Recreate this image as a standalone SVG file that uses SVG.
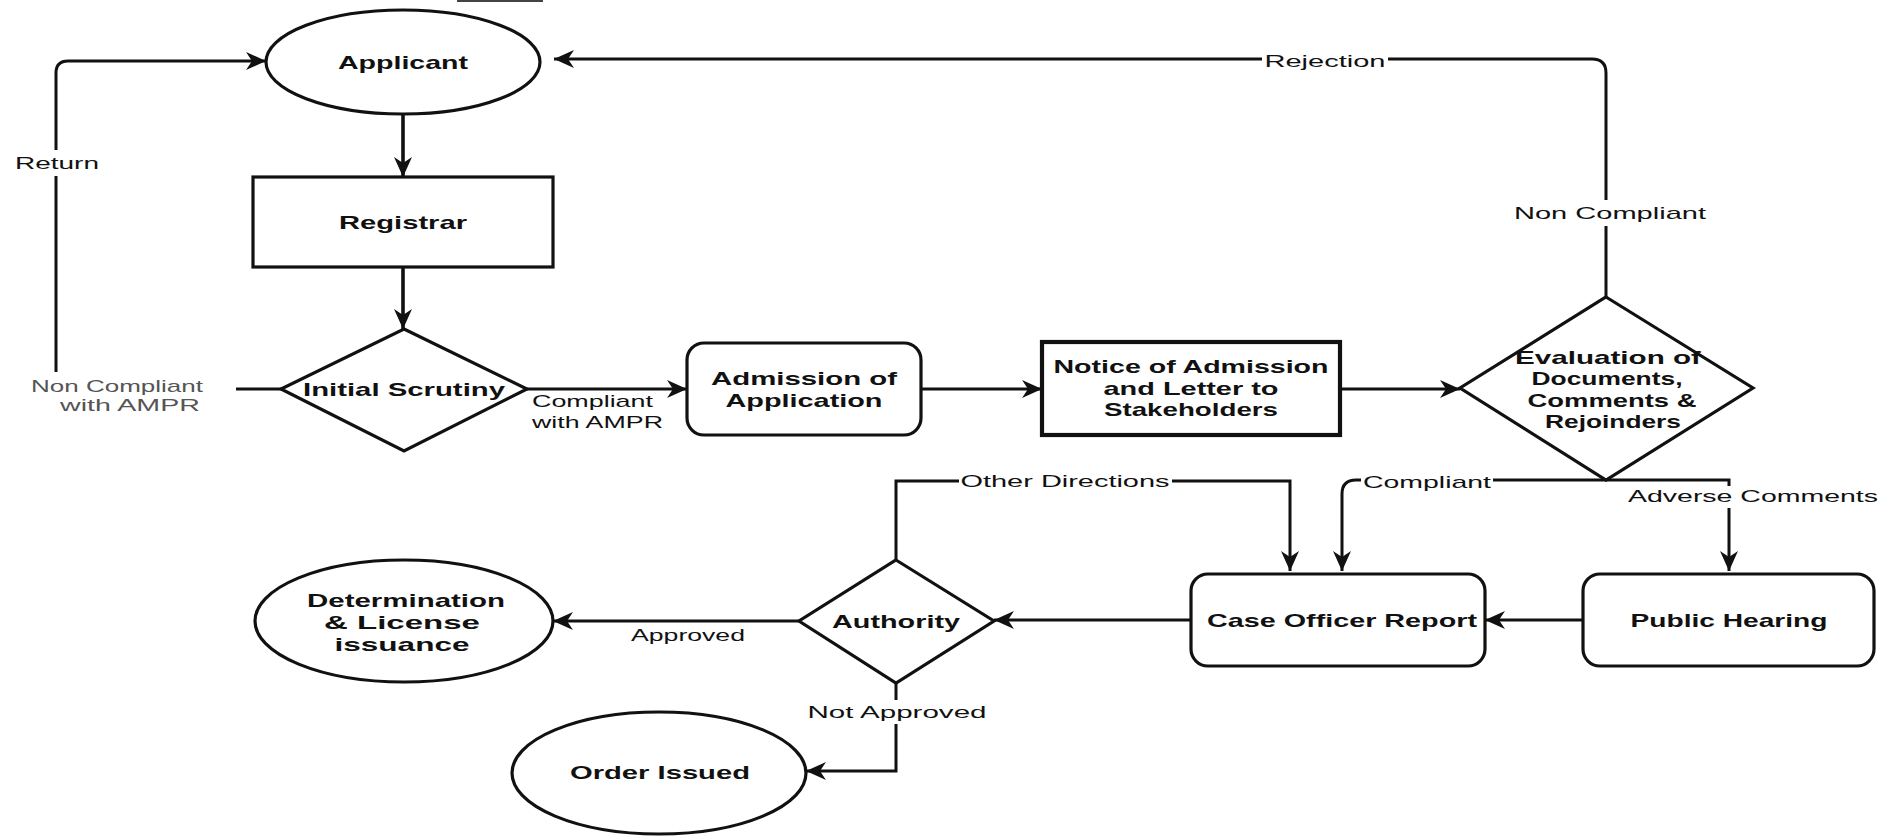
<svg xmlns="http://www.w3.org/2000/svg" width="1896" height="836" viewBox="0 0 1896 836">
<style>
  .shape { fill: #fff; stroke: #111; stroke-width: 3.2; }
  .thick { stroke-width: 4.2; }
  .conn { fill: none; stroke: #111; stroke-width: 3; }
  .heavy { stroke-width: 3.6; }
  .nt { font-family: "Liberation Sans", Arial, sans-serif; font-weight: bold; font-size: 19px; fill: #111; text-anchor: middle; }
  .el { font-family: "Liberation Sans", Arial, sans-serif; font-size: 17px; fill: #111; text-anchor: middle; }
  .faint { fill: #555; }
  .bg { fill: #fff; stroke: none; }
</style>
<defs>
  <marker id="arr" markerWidth="22" markerHeight="18" refX="20" refY="9" orient="auto" markerUnits="userSpaceOnUse">
    <path d="M0,0 L20,9 L0,18 L6,9 z" fill="#111"/>
  </marker>
</defs>
<rect width="1896" height="836" fill="#fff"/>
<rect x="457" y="0" width="86" height="2" fill="#444"/>

<g id="connectors">
  <path class="conn heavy" d="M403,114 V177" marker-end="url(#arr)"/>
  <path class="conn heavy" d="M403,267 V329" marker-end="url(#arr)"/>
  <path class="conn" d="M281,389 H56 V73 Q56,61 68,61 H266" marker-end="url(#arr)"/>
  <path class="conn" d="M527,389 H687" marker-end="url(#arr)"/>
  <path class="conn" d="M921,389 H1042" marker-end="url(#arr)"/>
  <path class="conn" d="M1340,389 H1460" marker-end="url(#arr)"/>
  <path class="conn" d="M1606,297 V73 Q1606,59 1592,59 H554" marker-end="url(#arr)"/>
  <path class="conn" d="M1606,480 H1356 Q1342,480 1342,494 V571" marker-end="url(#arr)"/>
  <path class="conn" d="M1606,480 H1729 V571" marker-end="url(#arr)"/>
  <path class="conn" d="M1583,620 H1485" marker-end="url(#arr)"/>
  <path class="conn" d="M1191,620 H994" marker-end="url(#arr)"/>
  <path class="conn" d="M896,560 V481 H1290 V571" marker-end="url(#arr)"/>
  <path class="conn" d="M799,621 H553" marker-end="url(#arr)"/>
  <path class="conn" d="M896,683 V771 H806" marker-end="url(#arr)"/>

  <rect class="bg" x="12" y="150" width="90" height="26"/>
  <text class="el" x="57" y="169" textLength="84" lengthAdjust="spacingAndGlyphs">Return</text>
  <rect class="bg" x="26" y="372" width="210" height="44"/>
  <text class="el faint" x="117" y="392" textLength="172" lengthAdjust="spacingAndGlyphs">Non Compliant</text>
  <text class="el faint" x="130" y="411" textLength="140" lengthAdjust="spacingAndGlyphs">with AMPR</text>
  <text class="el" x="532" y="407" style="text-anchor:start" textLength="121" lengthAdjust="spacingAndGlyphs">Compliant</text>
  <text class="el" x="532" y="428" style="text-anchor:start" textLength="131" lengthAdjust="spacingAndGlyphs">with AMPR</text>
  <rect class="bg" x="1262" y="48" width="126" height="24"/>
  <text class="el" x="1325" y="67" textLength="121" lengthAdjust="spacingAndGlyphs">Rejection</text>
  <rect class="bg" x="1512" y="200" width="196" height="26"/>
  <text class="el" x="1610" y="219" textLength="192" lengthAdjust="spacingAndGlyphs">Non Compliant</text>
  <rect class="bg" x="1361" y="470" width="132" height="22"/>
  <text class="el" x="1427" y="488" textLength="128" lengthAdjust="spacingAndGlyphs">Compliant</text>
  <rect class="bg" x="1626" y="486" width="254" height="22"/>
  <text class="el" x="1753" y="502" textLength="250" lengthAdjust="spacingAndGlyphs">Adverse Comments</text>
  <rect class="bg" x="959" y="470" width="213" height="22"/>
  <text class="el" x="1065" y="487" textLength="209" lengthAdjust="spacingAndGlyphs">Other Directions</text>
  <text class="el" x="688" y="641" textLength="114" lengthAdjust="spacingAndGlyphs">Approved</text>
  <rect class="bg" x="806" y="700" width="183" height="24"/>
  <text class="el" x="897" y="718" textLength="179" lengthAdjust="spacingAndGlyphs">Not Approved</text>
</g>

<g id="applicant">
  <ellipse class="shape" cx="403" cy="62" rx="137" ry="52"/>
  <text class="nt" x="403" y="69" textLength="130" lengthAdjust="spacingAndGlyphs">Applicant</text>
</g>
<g id="registrar">
  <rect class="shape" x="253" y="177" width="300" height="90"/>
  <text class="nt" x="403" y="229" textLength="128" lengthAdjust="spacingAndGlyphs">Registrar</text>
</g>
<g id="initial-scrutiny">
  <polygon class="shape" points="404,329 527,389 404,451 281,389"/>
  <text class="nt" x="404" y="396" textLength="202" lengthAdjust="spacingAndGlyphs">Initial Scrutiny</text>
</g>
<g id="admission">
  <rect class="shape" x="687" y="343" width="234" height="92" rx="17"/>
  <text class="nt" x="804" y="385" textLength="186" lengthAdjust="spacingAndGlyphs">Admission of</text>
  <text class="nt" x="804" y="407" textLength="157" lengthAdjust="spacingAndGlyphs">Application</text>
</g>
<g id="notice">
  <rect class="shape thick" x="1042" y="342" width="298" height="93"/>
  <text class="nt" x="1191" y="373" textLength="275" lengthAdjust="spacingAndGlyphs">Notice of Admission</text>
  <text class="nt" x="1191" y="395" textLength="175" lengthAdjust="spacingAndGlyphs">and Letter to</text>
  <text class="nt" x="1191" y="416" textLength="174" lengthAdjust="spacingAndGlyphs">Stakeholders</text>
</g>
<g id="evaluation">
  <polygon class="shape" points="1606,297 1753,388 1606,480 1460,388"/>
  <text class="nt" x="1608" y="364" textLength="186" lengthAdjust="spacingAndGlyphs">Evaluation of</text>
  <text class="nt" x="1607" y="385" textLength="151" lengthAdjust="spacingAndGlyphs">Documents,</text>
  <text class="nt" x="1612" y="407" textLength="169" lengthAdjust="spacingAndGlyphs">Comments &amp;</text>
  <text class="nt" x="1613" y="428" textLength="136" lengthAdjust="spacingAndGlyphs">Rejoinders</text>
</g>
<g id="case-officer">
  <rect class="shape" x="1191" y="574" width="294" height="92" rx="17"/>
  <text class="nt" x="1342" y="627" textLength="270" lengthAdjust="spacingAndGlyphs">Case Officer Report</text>
</g>
<g id="public-hearing">
  <rect class="shape" x="1583" y="574" width="291" height="92" rx="17"/>
  <text class="nt" x="1729" y="627" textLength="197" lengthAdjust="spacingAndGlyphs">Public Hearing</text>
</g>
<g id="authority">
  <polygon class="shape" points="896,560 994,621 896,683 799,621"/>
  <text class="nt" x="896" y="628" textLength="128" lengthAdjust="spacingAndGlyphs">Authority</text>
</g>
<g id="determination">
  <ellipse class="shape" cx="404" cy="621" rx="149" ry="61"/>
  <text class="nt" x="406" y="607" textLength="198" lengthAdjust="spacingAndGlyphs">Determination</text>
  <text class="nt" x="402" y="629" textLength="156" lengthAdjust="spacingAndGlyphs">&amp; License</text>
  <text class="nt" x="402" y="651" textLength="135" lengthAdjust="spacingAndGlyphs">issuance</text>
</g>
<g id="order-issued">
  <ellipse class="shape" cx="659" cy="773" rx="147" ry="61"/>
  <text class="nt" x="660" y="779" textLength="180" lengthAdjust="spacingAndGlyphs">Order Issued</text>
</g>
</svg>
